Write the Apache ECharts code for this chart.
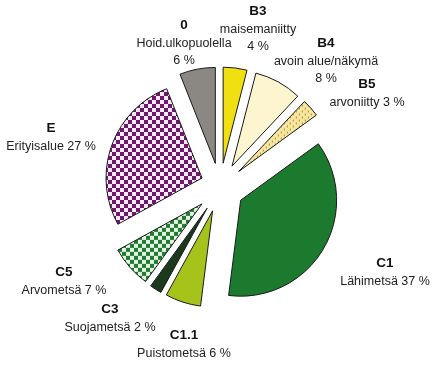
<!DOCTYPE html>
<html>
<head>
<meta charset="utf-8">
<script src="https://cdn.jsdelivr.net/npm/echarts@6/dist/echarts.min.js"></script>
<style>
html,body{margin:0;padding:0;background:#fff;}
#chart{width:436px;height:365px;}
</style>
</head>
<body>
<div id="chart"></div>
<script>
// ---- data ----
var codes  = ['B3', 'B4', 'B5', 'C1', 'C1.1', 'C3', 'C5', 'E', '0'];
var names  = ['maisemaniitty', 'avoin alue/näkymä', 'arvoniitty', 'Lähimetsä', 'Puistometsä', 'Suojametsä', 'Arvometsä', 'Erityisalue', 'Hoid.ulkopuolella'];
var values = [4, 8, 3, 37, 6, 2, 7, 27, 6];
var pctOwnLine = [true, true, false, false, false, false, false, false, true];

// ---- layout / style ----
var pieCenter = [220, 188];
var pieRadius = 96;
var explode = [25, 25, 25, 24, 24, 24, 24, 0, 25];
var centers = [pieCenter, pieCenter, pieCenter, pieCenter, pieCenter, pieCenter, pieCenter, [202, 178], pieCenter];
var labelPos = [[258, 3], [326, 35], [367, 76], [385, 255], [184, 327], [110, 301], [64, 264], [51, 120], [184, 17]];
var FONT = 'Liberation Sans, Arial, sans-serif';

function checker(c1, c2, s) {
  var cv = document.createElement('canvas');
  cv.width = 2 * s; cv.height = 2 * s;
  var g = cv.getContext('2d');
  g.fillStyle = c2; g.fillRect(0, 0, 2 * s, 2 * s);
  g.fillStyle = c1; g.fillRect(0, 0, s, s); g.fillRect(s, s, s, s);
  return { image: cv, repeat: 'repeat' };
}
function dots(bg, fg) {
  var cv = document.createElement('canvas');
  cv.width = 6; cv.height = 6;
  var g = cv.getContext('2d');
  g.fillStyle = bg; g.fillRect(0, 0, 6, 6);
  g.fillStyle = fg; g.fillRect(1, 1, 1, 2); g.fillRect(4, 4, 1, 2);
  return { image: cv, repeat: 'repeat' };
}
var fills = [
  '#f0e012',
  '#fdf5cf',
  dots('#f7e79c', '#a8884a'),
  '#1b7a2d',
  '#a6c31c',
  '#1b3a1d',
  checker('#1f7d31', '#e6f3e4', 4),
  checker('#6d1a6b', '#fbe9fb', 4),
  '#8b8884'
];

var chart = echarts.init(document.getElementById('chart'), null, { renderer: 'canvas' });
var series = [];
for (var k = 0; k < values.length; k++) {
  var data = [];
  for (var i = 0; i < values.length; i++) {
    if (i === k) {
      var st = { color: fills[i], borderColor: '#1a1a1a', borderWidth: 1 };
      data.push({
        name: codes[i], value: values[i],
        selected: explode[i] > 0,
        itemStyle: st,
        select: { itemStyle: st }
      });
    } else {
      data.push({
        name: codes[i], value: values[i],
        itemStyle: { color: 'rgba(0,0,0,0)', borderWidth: 0 }
      });
    }
  }
  series.push({
    type: 'pie',
    center: centers[k],
    radius: pieRadius,
    startAngle: 90,
    clockwise: true,
    selectedMode: 'single',
    selectedOffset: explode[k],
    silent: true,
    animation: false,
    label: { show: false },
    labelLine: { show: false },
    data: data
  });
}

var graphics = [];
for (var j = 0; j < values.length; j++) {
  var txt = pctOwnLine[j]
    ? '{c|' + codes[j] + '}\n{n|' + names[j] + '}\n{n|' + values[j] + ' %}'
    : '{c|' + codes[j] + '}\n{n|' + names[j] + ' ' + values[j] + ' %}';
  graphics.push({
    type: 'text',
    x: labelPos[j][0],
    y: labelPos[j][1],
    silent: true,
    style: {
      text: txt,
      align: 'center',
      verticalAlign: 'top',
      fill: '#222',
      font: '12.5px ' + FONT,
      rich: {
        c: { fontWeight: 'bold', fontSize: 13.5, lineHeight: 17.5, fill: '#111', fontFamily: FONT, align: 'center' },
        n: { fontSize: 12.5, lineHeight: 17.5, fill: '#222', fontFamily: FONT, align: 'center' }
      }
    }
  });
}

chart.setOption({ animation: false, series: series, graphic: graphics });
</script>
</body>
</html>
